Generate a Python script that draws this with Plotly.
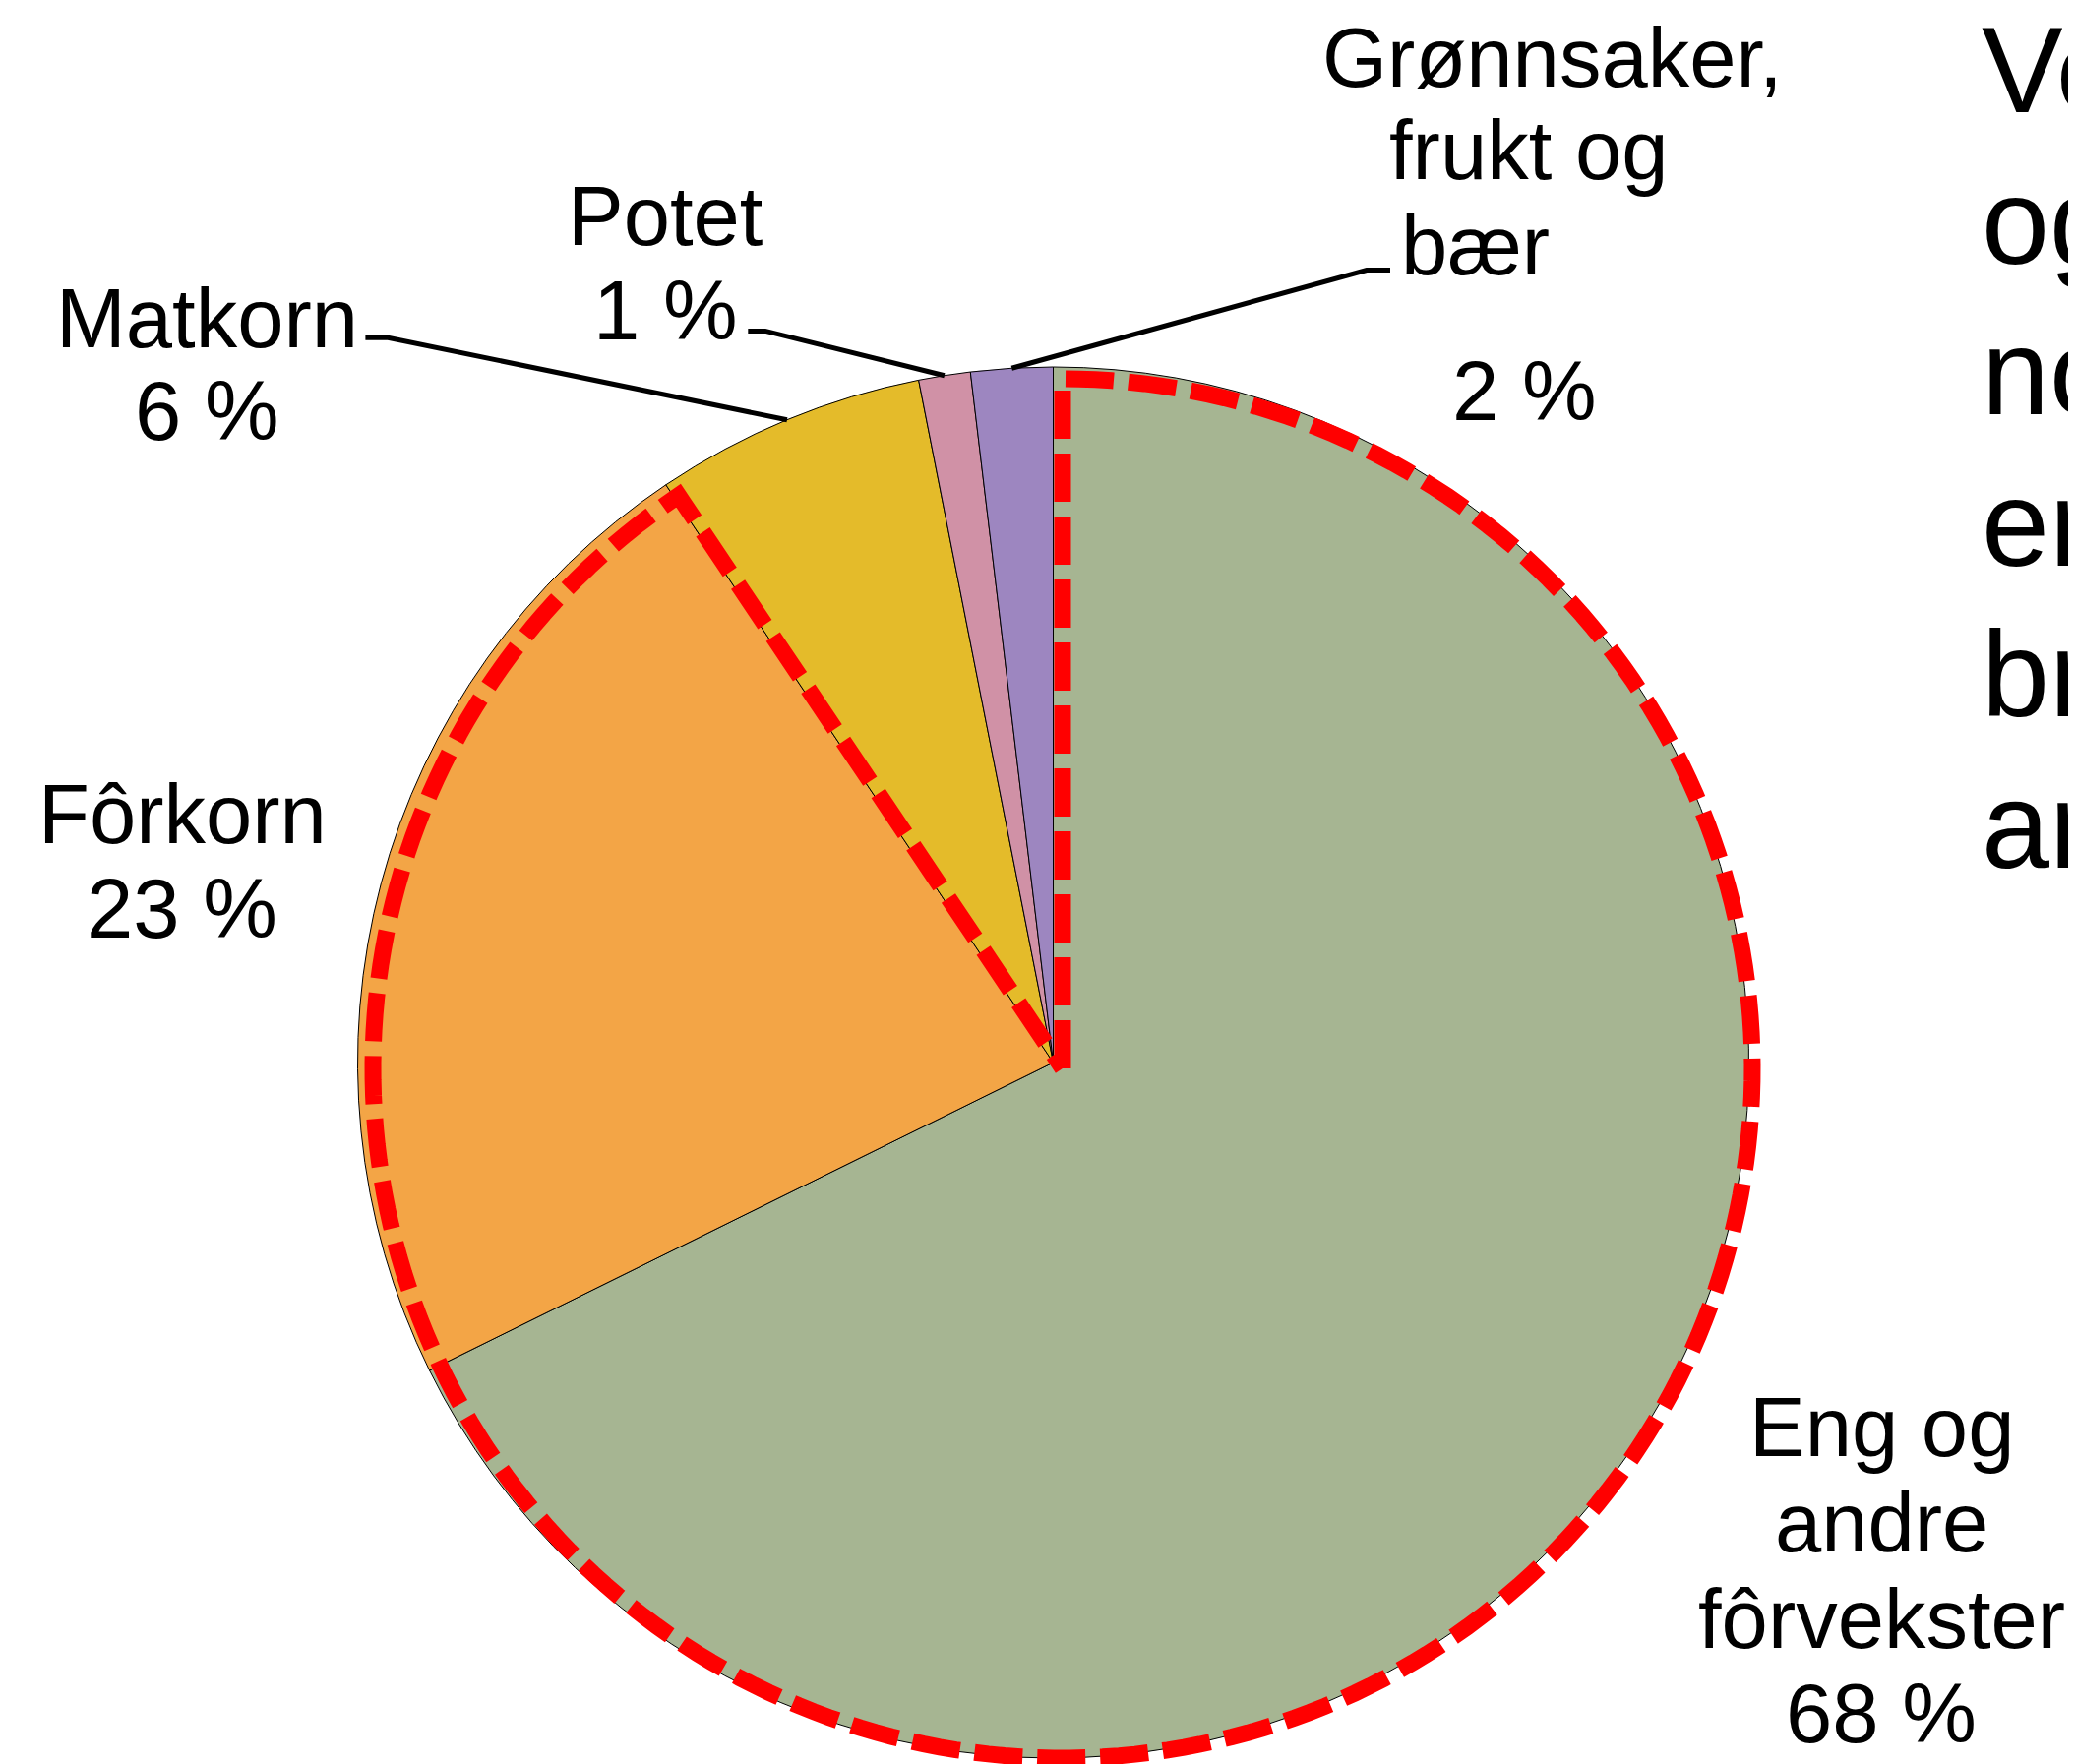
import math
import plotly.graph_objects as go

# ---------------- data ----------------
categories = ["Eng og andre fôrvekster", "Fôrkorn", "Matkorn", "Potet", "Grønnsaker, frukt og bær"]
values = [67.7, 22.9, 6.3, 1.2, 1.9]
colors = ["#A6B592", "#F3A546", "#E4BB2A", "#D091A6", "#9D86C0"]
feed_slices = ["Eng og andre fôrvekster", "Fôrkorn"]   # outlined by the red dashed border
side_text = ["Ve", "og", "no", "er", "br", "ar"]

# ---------------- geometry (pixels) ----------------
W, H = 2110, 1793
OFF = 8                                   # page body margin
CX, CY, R = 1070.5, 1080.0, 707.0        # pie centre / radius
RCX, RCY, RR = 1080.0, 1086.0, 701.0     # red dashed outline
FONT = "Liberation Sans, Arial, sans-serif"
FS = 85


def px(x):
    return (x - OFF) / W


def py(y):
    return 1 - (y - OFF) / H


total = sum(values)
cum = [0.0]
for v in values:
    cum.append(cum[-1] + v)


def circ_pt(frac, cx=CX, cy=CY, r=R):
    a = 2 * math.pi * frac
    return cx + r * math.sin(a), cy - r * math.cos(a)


fig = go.Figure()
fig.add_trace(go.Pie(
    labels=categories, values=values, sort=False, direction="clockwise", rotation=0,
    marker=dict(colors=colors, line=dict(color="black", width=1)),
    textinfo="none", hoverinfo="label+percent", showlegend=False,
    domain=dict(x=[px(CX - R), px(CX + R)], y=[py(CY + R), py(CY - R)]),
))

shapes = []

# red dashed outline around the feed slices (computed from the data)
n_feed = len(feed_slices)
end_frac = cum[n_feed] / total
pts = [(RCX, RCY)]
steps = 240
for k in range(steps + 1):
    pts.append(circ_pt(end_frac * k / steps, RCX, RCY, RR))
pts.append((RCX, RCY))
path = "M {} {}".format(px(pts[0][0]), py(pts[0][1]))
for (x, y) in pts[1:]:
    path += " L {} {}".format(px(x), py(y))
shapes.append(dict(type="path", xref="paper", yref="paper", path=path,
                   line=dict(color="#FF0000", width=17, dash="49px,15px")))

# leader lines (label elbow -> slice mid-angle on rim)
leaders = {
    2: [(371.4, 343.2), (394.3, 343.2)],   # Matkorn
    3: [(760.3, 336.4), (777.8, 336.4)],   # Potet
    4: [(1413.0, 274.5), (1389.0, 274.5)], # Grønnsaker
}
for i, elbow in leaders.items():
    mid = (cum[i] + values[i] / 2) / total
    ex, ey = circ_pt(mid)
    p = "M {} {} L {} {} L {} {}".format(px(elbow[0][0]), py(elbow[0][1]),
                                         px(elbow[1][0]), py(elbow[1][1]),
                                         px(ex), py(ey))
    shapes.append(dict(type="path", xref="paper", yref="paper", path=p,
                       line=dict(color="black", width=5)))

annotations = []


def label(text, x, baseline, anchor="center", size=FS):
    annotations.append(dict(
        text=text, x=px(x), y=py(baseline - 0.3465 * size), xref="paper", yref="paper",
        xanchor=anchor, yanchor="middle", showarrow=False,
        font=dict(family=FONT, size=size, color="black")))


pct = ["{} %".format(round(v / total * 100)) for v in values]

# Eng og andre fôrvekster
label("Eng og", 1912, 1480)
label("andre", 1912, 1577)
label("fôrvekster", 1912, 1675)
label(pct[0], 1912, 1771)
# Fôrkorn
label("Fôrkorn", 185, 857)
label(pct[1], 185, 953)
# Matkorn
label("Matkorn", 210, 352.6)
label(pct[2], 210, 447)
# Potet
label("Potet", 676, 249)
label(pct[3], 676, 344.5)
# Grønnsaker
label("Grønnsaker,", 1341.7, 87.5, anchor="left")
label("frukt og", 1410, 181.7, anchor="left")
label("bær", 1422, 278.6, anchor="left")
label(pct[4], 1473.6, 426.6, anchor="left")

# side text (clipped by the right edge, as in the original)
for j, t in enumerate(side_text):
    label(t, 2012, 114 + 153.5 * j, anchor="left", size=124)

fig.update_layout(
    width=W, height=H, margin=dict(l=0, r=0, t=0, b=0),
    paper_bgcolor="white", plot_bgcolor="white",
    shapes=shapes, annotations=annotations,
)

fig.write_html("out.html")
